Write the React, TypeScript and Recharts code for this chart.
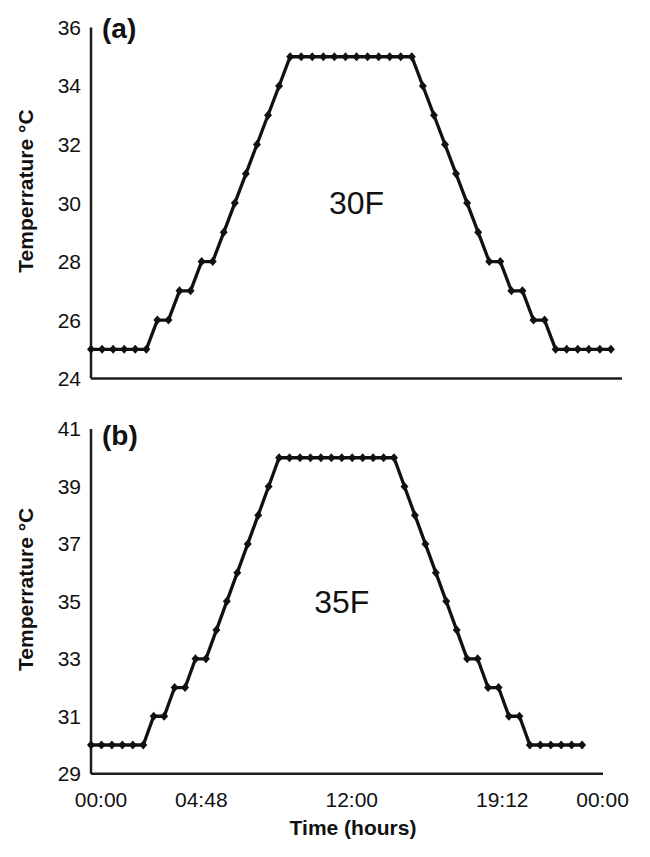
import React from "react";
import { LineChart, Line, XAxis, YAxis, ReferenceDot, Label } from "recharts";

// Time of day in hours (half-hourly readings)
const TIME_H = [
  0, 0.5, 1, 1.5, 2, 2.5, 3, 3.5, 4, 4.5, 5, 5.5, 6, 6.5, 7, 7.5,
  8, 8.5, 9, 9.5, 10, 10.5, 11, 11.5, 12, 12.5, 13, 13.5, 14, 14.5, 15, 15.5,
  16, 16.5, 17, 17.5, 18, 18.5, 19, 19.5, 20, 20.5, 21, 21.5, 22, 22.5, 23, 23.5,
];

// (a) 30F programme
const TEMP_A = [
  25, 25, 25, 25, 25, 25, 26, 26, 27, 27, 28, 28, 29, 30, 31, 32,
  33, 34, 35, 35, 35, 35, 35, 35, 35, 35, 35, 35, 35, 35, 34, 33,
  32, 31, 30, 29, 28, 28, 27, 27, 26, 26, 25, 25, 25, 25, 25, 25,
];

// (b) 35F programme
const TEMP_B = [
  30, 30, 30, 30, 30, 30, 31, 31, 32, 32, 33, 33, 34, 35, 36, 37,
  38, 39, 40, 40, 40, 40, 40, 40, 40, 40, 40, 40, 40, 40, 39, 38,
  37, 36, 35, 34, 33, 33, 32, 32, 31, 31, 30, 30, 30, 30, 30, 30,
];

const Y_TICKS_A = [24, 26, 28, 30, 32, 34, 36];
const Y_TICKS_B = [29, 31, 33, 35, 37, 39, 41];
const X_TICKS = [0, 4.8, 12, 19.2, 24];
const X_TICK_LABELS = ["00:00", "04:48", "12:00", "19:12", "00:00"];

const dataA = TIME_H.map((t, i) => ({ t, v: TEMP_A[i] }));
const dataB = TIME_H.map((t, i) => ({ t, v: TEMP_B[i] }));

const FONT = '"Liberation Sans", Arial, Helvetica, sans-serif';
const INK = "#111";
const AXIS = { stroke: "#1c1c1c", strokeWidth: 2.5 };

const Diamond = (props: any) => {
  const { cx, cy, index } = props;
  if (cx == null || cy == null) return <g key={index} />;
  return (
    <path
      key={index}
      d={`M${cx},${cy - 4.5} L${cx + 4},${cy} L${cx},${cy + 4.5} L${cx - 4},${cy} Z`}
      fill={INK}
    />
  );
};

const makeYTitle = () => (props: any) => {
  const { x, y, height } = props.viewBox;
  const cx = x + 25;
  const cy = y + height / 2 - 12;
  return (
    <text
      x={cx}
      y={cy}
      transform={`rotate(-90 ${cx} ${cy})`}
      textAnchor="middle"
      dominantBaseline="central"
      fontSize={21}
      fontWeight="bold"
      fill={INK}
      fontFamily={FONT}
    >
      Temperrature °C
    </text>
  );
};

const makeTag = (tag: string, dy: number) => (props: any) => {
  const { x, y, width } = props.viewBox;
  return (
    <text
      x={x + width + 11}
      y={y + dy}
      fontSize={28}
      fontWeight="bold"
      fill={INK}
      fontFamily={FONT}
    >
      {tag}
    </text>
  );
};

const XTitle = (props: any) => {
  const { x, y, width } = props.viewBox;
  return (
    <text
      x={x + width / 2 + 6}
      y={y + 61}
      textAnchor="middle"
      fontSize={21}
      fontWeight="bold"
      fill={INK}
      fontFamily={FONT}
    >
      Time (hours)
    </text>
  );
};

export default function App() {
  return (
    <div style={{ position: "absolute", left: 0, top: 0, width: 650, height: 857, background: "#fff", fontFamily: FONT }}>
      <LineChart
        width={650}
        height={400}
        data={dataA}
        margin={{ top: 27.5, right: 28, bottom: 0, left: 1 }}
      >
        <XAxis
          type="number"
          dataKey="t"
          domain={[0, 24]}
          tick={false}
          tickLine={false}
          axisLine={AXIS}
          height={21.4}
        />
        <YAxis
          type="number"
          domain={[24, 36]}
          ticks={Y_TICKS_A}
          interval={0}
          width={90}
          tickLine={false}
          tickSize={8}
          tickMargin={2}
          axisLine={AXIS}
          tick={{ fontSize: 21, fill: INK, fontFamily: FONT }}
        >
          <Label content={makeYTitle()} />
          <Label content={makeTag("(a)", 10)} />
        </YAxis>
        <ReferenceDot
          x={12}
          y={30}
          r={1}
          fill="none"
          stroke="none"
          label={{ value: "30F", position: "center", fontSize: 32, fill: INK, fontFamily: FONT }}
        />
        <Line
          type="linear"
          dataKey="v"
          stroke={INK}
          strokeWidth={3.3}
          dot={Diamond}
          activeDot={false}
          isAnimationActive={false}
        />
      </LineChart>
      <LineChart
        width={650}
        height={457}
        data={dataB}
        margin={{ top: 29, right: 47, bottom: 0, left: 1 }}
      >
        <XAxis
          type="number"
          dataKey="t"
          domain={[0, 24.5]}
          ticks={X_TICKS}
          interval={0}
          tickFormatter={(v: number, i: number) => X_TICK_LABELS[i]}
          tickLine={false}
          tickSize={16}
          tickMargin={2}
          axisLine={AXIS}
          height={83.3}
          tick={{ fontSize: 21, fill: INK, fontFamily: FONT, dx: 10 }}
        >
          <Label content={XTitle} />
        </XAxis>
        <YAxis
          type="number"
          domain={[29, 41]}
          ticks={Y_TICKS_B}
          interval={0}
          width={90}
          tickLine={false}
          tickSize={8}
          tickMargin={2}
          axisLine={AXIS}
          tick={{ fontSize: 21, fill: INK, fontFamily: FONT }}
        >
          <Label content={makeYTitle()} />
          <Label content={makeTag("(b)", 16)} />
        </YAxis>
        <ReferenceDot
          x={12}
          y={35}
          r={1}
          fill="none"
          stroke="none"
          label={{ value: "35F", position: "center", fontSize: 32, fill: INK, fontFamily: FONT }}
        />
        <Line
          type="linear"
          dataKey="v"
          stroke={INK}
          strokeWidth={3.3}
          dot={Diamond}
          activeDot={false}
          isAnimationActive={false}
        />
      </LineChart>
    </div>
  );
}
